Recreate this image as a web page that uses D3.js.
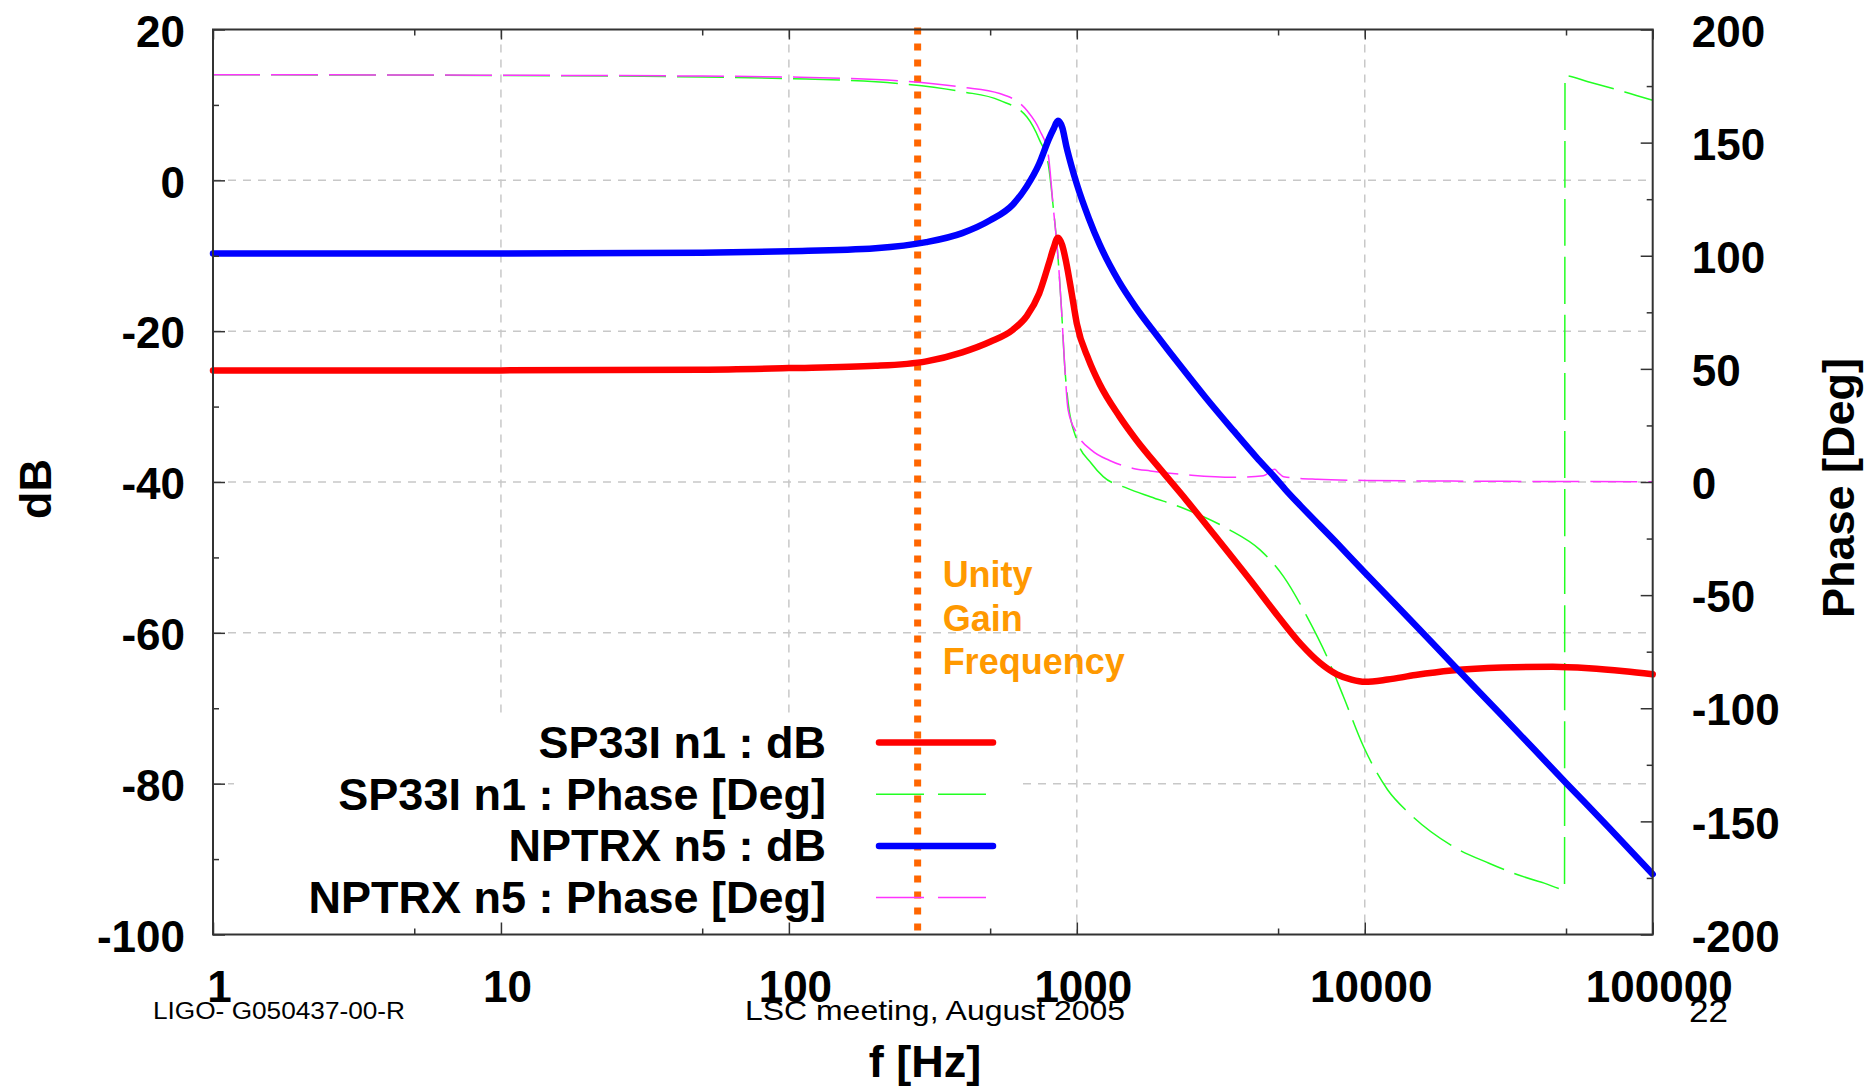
<!DOCTYPE html>
<html>
<head>
<meta charset="utf-8">
<script src="https://cdn.jsdelivr.net/npm/d3@7"></script>
<style>
  html, body { margin: 0; padding: 0; background: #fff; }
  svg { display: block; font-family: "Liberation Sans", Arial, Helvetica, sans-serif; }
</style>
</head>
<body>
<div id="chart"></div>
<script>
// ---- axis ticks ----
const freqTicks = [1, 10, 100, 1000, 10000, 100000];
const freqMinorTicks = [5, 50, 500, 5000, 50000];
const freqGrid = [10, 100, 1000, 10000];
const dbTicks = [20, 0, -20, -40, -60, -80, -100];
const dbMinorTicks = [10, -10, -30, -50, -70, -90];
const dbGrid = [0, -20, -40, -60, -80];
const phaseTicks = [200, 150, 100, 50, 0, -50, -100, -150, -200];
const phaseMinorTicks = [175, 125, 75, 25, -25, -75, -125, -175];

const unityGainFreq = 280;

// ---- SP33I n1 : dB ----
const sp33iDbFreq = [1, 10, 50, 100, 200, 300, 400, 500, 600, 670, 740, 800, 830, 860, 890, 920, 960, 1000,
  1100, 1200, 1400, 1600, 2000, 2400, 3000, 4000, 5000, 6000, 7000, 8000, 9000, 10000, 12000, 15000,
  20000, 30000, 45000, 60000, 80000, 100000];
const sp33iDb = [-25.2, -25.2, -25.1, -24.9, -24.6, -24.0, -22.8, -21.4, -19.8, -18.0, -15.0, -11.0, -9.0, -7.6,
  -8.6, -11.0, -15.0, -19.0, -23.8, -27.0, -31.2, -34.3, -38.8, -42.4, -47.0, -53.0, -57.8, -61.5, -64.0,
  -65.5, -66.2, -66.5, -66.2, -65.6, -65.0, -64.6, -64.5, -64.7, -65.1, -65.5];

// ---- SP33I n1 : Phase [Deg] ----
const sp33iPhFreq = [1, 10, 50, 100, 243, 400, 540, 670, 743, 795, 828, 860, 885, 908, 933, 1000, 1124, 1235,
  1500, 1800, 2345, 3320, 4330, 5225, 6300, 7390, 8430, 9900, 12000, 14260, 20200, 27000, 34000, 42000,
  49400, 49600, 60000, 80000, 100000];
const sp33iPh = [180, 179.7, 179.0, 178.3, 176.1, 172.5, 168.7, 161.4, 151, 140.8, 121.6, 99.5, 76, 51, 35, 18.6,
  8.2, 2.4, -2.8, -6.5, -11.6, -20.5, -30, -41.8, -59.5, -77.2, -94.8, -116.9, -136, -146.4, -161, -168.5,
  -173.6, -177.3, -180, 179.6, 176.8, 172.4, 168.7];

// ---- NPTRX n5 : dB ----
const nptrxDbFreq = [1, 10, 50, 100, 200, 300, 400, 500, 600, 670, 740, 800, 830, 860, 890, 920, 960, 1000,
  1100, 1200, 1300, 1400, 1600, 1900, 2300, 2800, 3500, 4200, 4900, 5300, 6000, 8000, 10000, 15000, 20000,
  30000, 50000, 70000, 100000];
const nptrxDb = [-9.7, -9.7, -9.6, -9.4, -9.0, -8.2, -7.0, -5.3, -3.2, -0.8, 2.2, 5.5, 6.8, 7.9, 7.0, 4.5, 1.8,
  -0.5, -5.0, -8.5, -11.2, -13.4, -16.8, -20.6, -24.7, -28.8, -33.2, -36.7, -39.5, -41.0, -43.2, -48.1, -52.0,
  -59.0, -64.0, -71.0, -79.9, -85.7, -92.0];

// ---- NPTRX n5 : Phase [Deg] ----
const nptrxPhFreq = [1, 10, 50, 100, 243, 400, 540, 670, 743, 795, 828, 860, 885, 908, 933, 1000, 1124, 1300,
  1571, 1800, 2500, 3500, 4450, 4870, 5000, 5230, 6860, 10000, 20000, 50000, 100000];
const nptrxPh = [180, 179.8, 179.4, 179.0, 177.3, 174.5, 171.7, 164.3, 155.5, 145, 121.6, 99.5, 76, 51, 31.8,
  21.6, 14.1, 9.5, 6.0, 4.9, 3.0, 2.1, 2.8, 5.6, 4.2, 2.3, 1.2, 0.7, 0.4, 0.2, 0.1];

const legendLabels = ["SP33I n1 : dB", "SP33I n1 : Phase [Deg]", "NPTRX n5 : dB", "NPTRX n5 : Phase [Deg]"];

// ---- layout ----
const W = 1869, H = 1088;
const M = { left: 213, right: 1652.7, top: 29.5, bottom: 934.5 };
const FONT = '"Liberation Sans", Arial, Helvetica, sans-serif';

const svg = d3.select("#chart").append("svg")
  .attr("width", W).attr("height", H)
  .attr("viewBox", `0 0 ${W} ${H}`);

svg.append("rect").attr("width", W).attr("height", H).attr("fill", "#fff");

const x = d3.scaleLog().domain([1, 100000]).range([M.left, M.right]);
const yDb = d3.scaleLinear().domain([-100, 20]).range([M.bottom, M.top]);
const yPh = d3.scaleLinear().domain([-200, 200]).range([M.bottom, M.top]);

// Grid
const grid = svg.append("g")
  .attr("stroke", "#c8c8c8").attr("stroke-width", 1.5).attr("stroke-dasharray", "8,7");
grid.selectAll("line.v").data(freqGrid).enter().append("line")
  .attr("x1", d => x(d)).attr("x2", d => x(d))
  .attr("y1", M.top).attr("y2", M.bottom);
grid.selectAll("line.h").data(dbGrid).enter().append("line")
  .attr("x1", M.left).attr("x2", M.right)
  .attr("y1", d => yDb(d)).attr("y2", d => yDb(d));

// Legend box (opaque, hides grid)
const legendBox = { x0: 234, x1: 1018, y0: 716 };
svg.append("rect")
  .attr("x", legendBox.x0).attr("y", legendBox.y0)
  .attr("width", legendBox.x1 - legendBox.x0).attr("height", M.bottom - legendBox.y0)
  .attr("fill", "#fff");

// Unity gain line
svg.append("line")
  .attr("x1", x(unityGainFreq)).attr("x2", x(unityGainFreq))
  .attr("y1", yDb(20) - 2).attr("y2", yDb(-100) + 4)
  .attr("stroke", "#ff6600").attr("stroke-width", 7)
  .attr("stroke-dasharray", "7,9");

const ugfText = svg.append("g")
  .style("font-family", FONT).style("font-weight", "bold")
  .style("font-size", "36px").attr("fill", "#ff9900");
["Unity", "Gain", "Frequency"].forEach((t, i) => {
  ugfText.append("text")
    .attr("x", x(unityGainFreq) + 25)
    .attr("y", 587 + i * 43.5)
    .text(t);
});

// Curves
svg.append("clipPath").attr("id", "plotclip")
  .append("rect").attr("x", M.left - 4).attr("y", M.top)
  .attr("width", M.right - M.left + 8).attr("height", M.bottom - M.top);

const curves = svg.append("g").attr("clip-path", "url(#plotclip)");

function drawSeries(freqs, vals, yScale, color, width, dash) {
  const pts = freqs.map((f, i) => [f, vals[i]]);
  const line = d3.line()
    .x(d => x(d[0]))
    .y(d => yScale(d[1]))
    .curve(d3.curveMonotoneX);
  const p = curves.append("path")
    .datum(pts)
    .attr("fill", "none")
    .attr("stroke", color)
    .attr("stroke-width", width)
    .attr("stroke-linejoin", "round")
    .attr("stroke-linecap", dash ? "butt" : "round")
    .attr("d", line);
  if (dash) p.attr("stroke-dasharray", dash);
}

drawSeries(sp33iPhFreq, sp33iPh, yPh, "#22ff22", 1.5, "47,11");
drawSeries(nptrxPhFreq, nptrxPh, yPh, "#ff33ff", 1.5, "47,11");
drawSeries(sp33iDbFreq, sp33iDb, yDb, "#ff0000", 6.5, null);
drawSeries(nptrxDbFreq, nptrxDb, yDb, "#0000ff", 6.5, null);

// Legend
const legendStyles = [
  { color: "#ff0000", width: 6.5, dash: null },
  { color: "#22ff22", width: 1.5, dash: "48,14" },
  { color: "#0000ff", width: 6.5, dash: null },
  { color: "#ff33ff", width: 1.5, dash: "48,14" }
];
const legend = svg.append("g");
legendLabels.forEach((lab, i) => {
  const base = 758 + i * 51.7;
  legend.append("text")
    .attr("x", 826).attr("y", base)
    .attr("text-anchor", "end")
    .style("font-family", FONT).style("font-weight", "bold").style("font-size", "45px")
    .attr("fill", "#000")
    .text(lab);
  const s = legendStyles[i];
  const ln = legend.append("line")
    .attr("x1", s.dash ? 876 : 879).attr("x2", s.dash ? 986 : 993)
    .attr("y1", base - 15.5).attr("y2", base - 15.5)
    .attr("stroke", s.color).attr("stroke-width", s.width)
    .attr("stroke-linecap", s.dash ? "butt" : "round");
  if (s.dash) ln.attr("stroke-dasharray", s.dash);
});

// Axes
function styleAxis(g, fontSize) {
  g.select(".domain").remove();
  g.selectAll(".tick line").attr("stroke", "#333").attr("stroke-width", 1.5);
  g.selectAll("text")
    .style("font-family", FONT).style("font-weight", "bold")
    .style("font-size", fontSize + "px").attr("fill", "#000");
}

const fmt = d => String(d);

svg.append("g").attr("transform", `translate(0,${M.bottom})`)
  .call(d3.axisBottom(x).tickValues(freqTicks).tickFormat(fmt).tickSizeInner(-12).tickSizeOuter(0).tickPadding(36))
  .call(g => styleAxis(g, 44))
  .call(g => g.selectAll("text").attr("dx", 6));
svg.append("g").attr("transform", `translate(0,${M.bottom})`)
  .call(d3.axisBottom(x).tickValues(freqMinorTicks).tickFormat("").tickSizeInner(-6).tickSizeOuter(0))
  .call(g => styleAxis(g, 44));
svg.append("g").attr("transform", `translate(0,${M.top})`)
  .call(d3.axisTop(x).tickValues(freqTicks).tickFormat("").tickSizeInner(-10).tickSizeOuter(0))
  .call(g => styleAxis(g, 44));
svg.append("g").attr("transform", `translate(0,${M.top})`)
  .call(d3.axisTop(x).tickValues(freqMinorTicks).tickFormat("").tickSizeInner(-6).tickSizeOuter(0))
  .call(g => styleAxis(g, 44));

svg.append("g").attr("transform", `translate(${M.left},0)`)
  .call(d3.axisLeft(yDb).tickValues(dbTicks).tickFormat(fmt).tickSizeInner(-12).tickSizeOuter(0).tickPadding(28))
  .call(g => styleAxis(g, 44))
  .call(g => g.selectAll("text").attr("dy", "0.38em"));
svg.append("g").attr("transform", `translate(${M.left},0)`)
  .call(d3.axisLeft(yDb).tickValues(dbMinorTicks).tickFormat("").tickSizeInner(-6).tickSizeOuter(0))
  .call(g => styleAxis(g, 44));

svg.append("g").attr("transform", `translate(${M.right},0)`)
  .call(d3.axisRight(yPh).tickValues(phaseTicks).tickFormat(fmt).tickSizeInner(-12).tickSizeOuter(0).tickPadding(39))
  .call(g => styleAxis(g, 44))
  .call(g => g.selectAll("text").attr("dy", "0.38em"));
svg.append("g").attr("transform", `translate(${M.right},0)`)
  .call(d3.axisRight(yPh).tickValues(phaseMinorTicks).tickFormat("").tickSizeInner(-6).tickSizeOuter(0))
  .call(g => styleAxis(g, 44));

// Frame
svg.append("rect")
  .attr("x", M.left).attr("y", M.top)
  .attr("width", M.right - M.left).attr("height", M.bottom - M.top)
  .attr("fill", "none").attr("stroke", "#333").attr("stroke-width", 2);

// Axis titles
const title = (t, attrs) => {
  const el = svg.append("text")
    .style("font-family", FONT).style("font-weight", "bold").style("font-size", "45px")
    .attr("text-anchor", "middle").attr("fill", "#000").text(t);
  Object.entries(attrs).forEach(([k, v]) => el.attr(k, v));
};
title("dB", { transform: "translate(51,489) rotate(-90)" });
title("Phase [Deg]", { transform: "translate(1854,488) rotate(-90)" });
title("f [Hz]", { x: 925, y: 1077 });

// Footer
const footer = (t, xPos, yPos, size, len) => {
  svg.append("text")
    .attr("x", xPos).attr("y", yPos)
    .style("font-family", FONT).style("font-size", size + "px")
    .attr("textLength", len).attr("lengthAdjust", "spacingAndGlyphs")
    .attr("fill", "#000").text(t);
};
footer("LIGO- G050437-00-R", 153, 1019, 23, 252);
footer("LSC meeting, August 2005", 745, 1020, 28, 380);
footer("22", 1689, 1022, 31, 39);
</script>
</body>
</html>
